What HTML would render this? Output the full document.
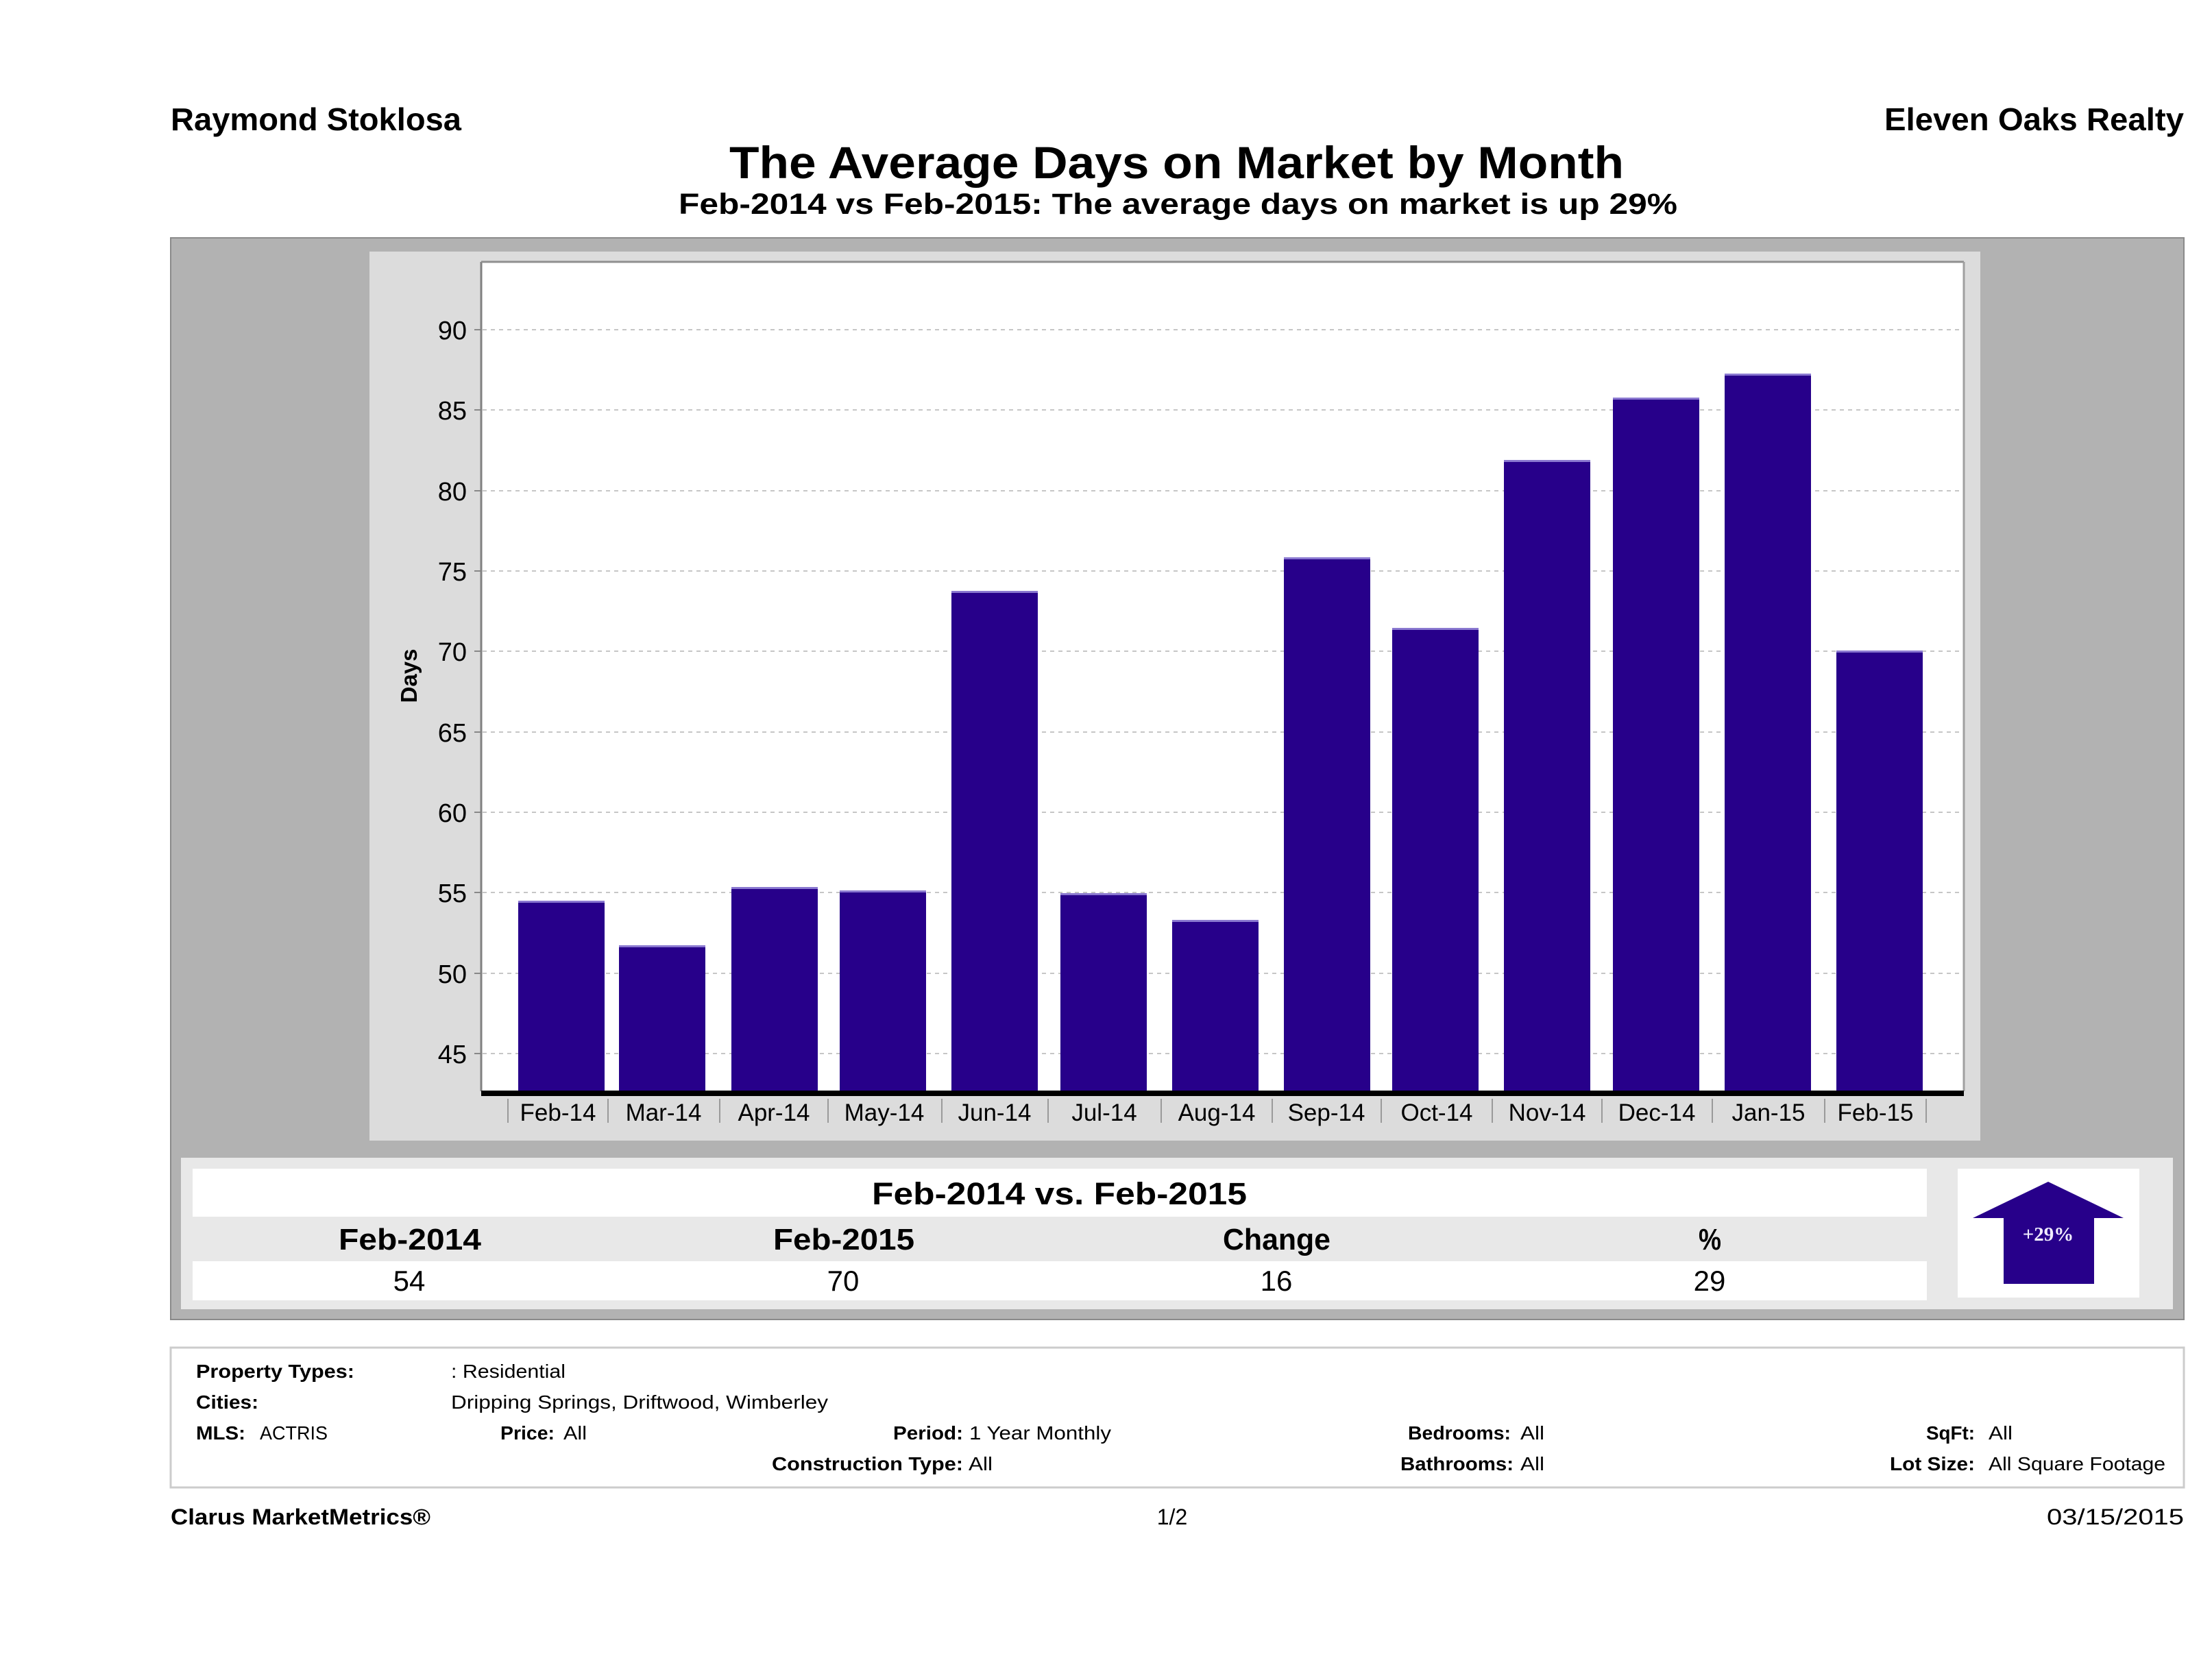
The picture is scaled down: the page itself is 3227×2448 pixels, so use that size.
<!DOCTYPE html>
<html>
<head>
<meta charset="utf-8">
<style>
html,body{margin:0;padding:0;background:#fff;}
svg{display:block;}
text{font-family:"Liberation Sans", "DejaVu Sans", sans-serif;fill:#000;}
.b{font-weight:bold;}
</style>
</head>
<body>
<svg width="3227" height="2448" viewBox="0 0 3227 2448" xmlns="http://www.w3.org/2000/svg">
<rect x="0" y="0" width="3227" height="2448" fill="#fff"/>

<!-- Header -->
<text class="b" x="249" y="190" font-size="46" textLength="424" lengthAdjust="spacingAndGlyphs">Raymond Stoklosa</text>
<text class="b" x="2749" y="190" font-size="46" textLength="437" lengthAdjust="spacingAndGlyphs">Eleven Oaks Realty</text>
<text class="b" x="1064" y="260" font-size="66" textLength="1305" lengthAdjust="spacingAndGlyphs">The Average Days on Market by Month</text>
<text class="b" x="990" y="312" font-size="43" textLength="1457" lengthAdjust="spacingAndGlyphs">Feb-2014 vs Feb-2015: The average days on market is up 29%</text>

<!-- Outer gray box -->
<rect x="249" y="347" width="2937" height="1578" fill="#b2b2b2" stroke="#8a8a8a" stroke-width="2"/>

<!-- Chart panel -->
<rect x="539" y="367" width="2350" height="1297" fill="#dcdcdc"/>
<!-- Plot area -->
<rect x="702" y="382" width="2162" height="1210" fill="#ffffff"/>

<!-- Gridlines -->
<g stroke="#c6c6c6" stroke-width="2" stroke-dasharray="6 6">
<line x1="704" y1="1537" x2="2864" y2="1537"/>
<line x1="704" y1="1420" x2="2864" y2="1420"/>
<line x1="704" y1="1302" x2="2864" y2="1302"/>
<line x1="704" y1="1185" x2="2864" y2="1185"/>
<line x1="704" y1="1068" x2="2864" y2="1068"/>
<line x1="704" y1="950" x2="2864" y2="950"/>
<line x1="704" y1="833" x2="2864" y2="833"/>
<line x1="704" y1="716" x2="2864" y2="716"/>
<line x1="704" y1="598" x2="2864" y2="598"/>
<line x1="704" y1="481" x2="2864" y2="481"/>
</g>

<!-- Y tick marks -->
<g stroke="#888" stroke-width="2">
<line x1="692" y1="1537" x2="702" y2="1537"/>
<line x1="692" y1="1420" x2="702" y2="1420"/>
<line x1="692" y1="1302" x2="702" y2="1302"/>
<line x1="692" y1="1185" x2="702" y2="1185"/>
<line x1="692" y1="1068" x2="702" y2="1068"/>
<line x1="692" y1="950" x2="702" y2="950"/>
<line x1="692" y1="833" x2="702" y2="833"/>
<line x1="692" y1="716" x2="702" y2="716"/>
<line x1="692" y1="598" x2="702" y2="598"/>
<line x1="692" y1="481" x2="702" y2="481"/>
</g>

<!-- Y labels -->
<g font-size="38" text-anchor="end" fill="#111">
<text x="681" y="1551">45</text>
<text x="681" y="1434">50</text>
<text x="681" y="1316">55</text>
<text x="681" y="1199">60</text>
<text x="681" y="1082">65</text>
<text x="681" y="964">70</text>
<text x="681" y="847">75</text>
<text x="681" y="730">80</text>
<text x="681" y="612">85</text>
<text x="681" y="495">90</text>
</g>
<text class="b" x="0" y="0" font-size="33" text-anchor="middle" transform="translate(608,986) rotate(-90)">Days</text>

<!-- Plot border -->
<line x1="702" y1="382" x2="702" y2="1592" stroke="#808080" stroke-width="3"/>
<line x1="702" y1="382" x2="2865" y2="382" stroke="#909090" stroke-width="3"/>
<line x1="2865" y1="382" x2="2865" y2="1592" stroke="#a0a0a0" stroke-width="3"/>

<!-- Bars -->
<g fill="#27008a">
<rect x="756" y="1316" width="126" height="276"/>
<rect x="903" y="1381" width="126" height="211"/>
<rect x="1067" y="1296" width="126" height="296"/>
<rect x="1225" y="1301" width="126" height="291"/>
<rect x="1388" y="864" width="126" height="728"/>
<rect x="1547" y="1305" width="126" height="287"/>
<rect x="1710" y="1344" width="126" height="248"/>
<rect x="1873" y="815" width="126" height="777"/>
<rect x="2031" y="918" width="126" height="674"/>
<rect x="2194" y="673" width="126" height="919"/>
<rect x="2353" y="582" width="126" height="1010"/>
<rect x="2516" y="547" width="126" height="1045"/>
<rect x="2679" y="951" width="126" height="641"/>
</g>
<g fill="#8a78d0">
<rect x="756" y="1314" width="126" height="3"/>
<rect x="903" y="1379" width="126" height="3"/>
<rect x="1067" y="1294" width="126" height="3"/>
<rect x="1225" y="1299" width="126" height="3"/>
<rect x="1388" y="862" width="126" height="3"/>
<rect x="1547" y="1303" width="126" height="3"/>
<rect x="1710" y="1342" width="126" height="3"/>
<rect x="1873" y="813" width="126" height="3"/>
<rect x="2031" y="916" width="126" height="3"/>
<rect x="2194" y="671" width="126" height="3"/>
<rect x="2353" y="580" width="126" height="3"/>
<rect x="2516" y="545" width="126" height="3"/>
<rect x="2679" y="949" width="126" height="3"/>
</g>

<!-- X axis line -->
<rect x="702" y="1591" width="2163" height="8" fill="#000"/>

<!-- X category separators -->
<g stroke="#9a9a9a" stroke-width="2">
<line x1="741" y1="1603" x2="741" y2="1638"/>
<line x1="887" y1="1603" x2="887" y2="1638"/>
<line x1="1050" y1="1603" x2="1050" y2="1638"/>
<line x1="1208" y1="1603" x2="1208" y2="1638"/>
<line x1="1374" y1="1603" x2="1374" y2="1638"/>
<line x1="1529" y1="1603" x2="1529" y2="1638"/>
<line x1="1694" y1="1603" x2="1694" y2="1638"/>
<line x1="1856" y1="1603" x2="1856" y2="1638"/>
<line x1="2015" y1="1603" x2="2015" y2="1638"/>
<line x1="2177" y1="1603" x2="2177" y2="1638"/>
<line x1="2337" y1="1603" x2="2337" y2="1638"/>
<line x1="2498" y1="1603" x2="2498" y2="1638"/>
<line x1="2662" y1="1603" x2="2662" y2="1638"/>
<line x1="2810" y1="1603" x2="2810" y2="1638"/>
</g>

<!-- X labels -->
<g font-size="35" text-anchor="middle" fill="#111">
<text x="814" y="1635">Feb-14</text>
<text x="968" y="1635">Mar-14</text>
<text x="1129" y="1635">Apr-14</text>
<text x="1290" y="1635">May-14</text>
<text x="1451" y="1635">Jun-14</text>
<text x="1611" y="1635">Jul-14</text>
<text x="1775" y="1635">Aug-14</text>
<text x="1935" y="1635">Sep-14</text>
<text x="2096" y="1635">Oct-14</text>
<text x="2257" y="1635">Nov-14</text>
<text x="2417" y="1635">Dec-14</text>
<text x="2580" y="1635">Jan-15</text>
<text x="2736" y="1635">Feb-15</text>
</g>

<!-- Stats table -->
<rect x="264" y="1689" width="2906" height="221" fill="#e8e8e8"/>
<rect x="281" y="1705" width="2530" height="70" fill="#ffffff"/>
<rect x="281" y="1840" width="2530" height="57" fill="#ffffff"/>
<text class="b" x="1272" y="1757" font-size="45" textLength="547" lengthAdjust="spacingAndGlyphs">Feb-2014 vs. Feb-2015</text>
<text class="b" x="494" y="1823" font-size="44" textLength="208" lengthAdjust="spacingAndGlyphs">Feb-2014</text>
<text class="b" x="1128" y="1823" font-size="44" textLength="206" lengthAdjust="spacingAndGlyphs">Feb-2015</text>
<text class="b" x="1784" y="1823" font-size="44" textLength="157" lengthAdjust="spacingAndGlyphs">Change</text>
<text class="b" x="2478" y="1823" font-size="44" textLength="33" lengthAdjust="spacingAndGlyphs">%</text>
<g font-size="42" text-anchor="middle">
<text x="597" y="1883">54</text>
<text x="1230" y="1883">70</text>
<text x="1862" y="1883">16</text>
<text x="2494" y="1883">29</text>
</g>

<!-- Arrow box -->
<rect x="2856" y="1705" width="265" height="188" fill="#ffffff"/>
<polygon points="2988,1724 3098,1777 3055,1777 3055,1873 2923,1873 2923,1777 2878,1777" fill="#27008a"/>
<text x="2988" y="1810" font-size="29" font-weight="bold" text-anchor="middle" style="font-family:'Liberation Serif','DejaVu Serif',serif;fill:#f0ecff;">+29%</text>

<!-- Footer criteria box -->
<rect x="249" y="1966" width="2937" height="204" fill="#ffffff" stroke="#cccccc" stroke-width="3"/>
<g font-size="28">
<text class="b" x="286" y="2010" textLength="231" lengthAdjust="spacingAndGlyphs">Property Types:</text>
<text x="658" y="2010" textLength="167" lengthAdjust="spacingAndGlyphs">: Residential</text>
<text class="b" x="286" y="2055" textLength="91" lengthAdjust="spacingAndGlyphs">Cities:</text>
<text x="658" y="2055" textLength="550" lengthAdjust="spacingAndGlyphs">Dripping Springs, Driftwood, Wimberley</text>
<text class="b" x="286" y="2100" textLength="72" lengthAdjust="spacingAndGlyphs">MLS:</text>
<text x="379" y="2100" textLength="99" lengthAdjust="spacingAndGlyphs">ACTRIS</text>
<text class="b" x="730" y="2100" textLength="79" lengthAdjust="spacingAndGlyphs">Price:</text>
<text x="822" y="2100" textLength="34" lengthAdjust="spacingAndGlyphs">All</text>
<text class="b" x="1303" y="2100" textLength="102" lengthAdjust="spacingAndGlyphs">Period:</text>
<text x="1414" y="2100" textLength="207" lengthAdjust="spacingAndGlyphs">1 Year Monthly</text>
<text class="b" x="1126" y="2145" textLength="279" lengthAdjust="spacingAndGlyphs">Construction Type:</text>
<text x="1413" y="2145" textLength="35" lengthAdjust="spacingAndGlyphs">All</text>
<text class="b" x="2054" y="2100" textLength="150" lengthAdjust="spacingAndGlyphs">Bedrooms:</text>
<text x="2218" y="2100" textLength="35" lengthAdjust="spacingAndGlyphs">All</text>
<text class="b" x="2043" y="2145" textLength="165" lengthAdjust="spacingAndGlyphs">Bathrooms:</text>
<text x="2218" y="2145" textLength="35" lengthAdjust="spacingAndGlyphs">All</text>
<text class="b" x="2810" y="2100" textLength="71" lengthAdjust="spacingAndGlyphs">SqFt:</text>
<text x="2901" y="2100" textLength="35" lengthAdjust="spacingAndGlyphs">All</text>
<text class="b" x="2757" y="2145" textLength="124" lengthAdjust="spacingAndGlyphs">Lot Size:</text>
<text x="2901" y="2145" textLength="258" lengthAdjust="spacingAndGlyphs">All Square Footage</text>
</g>

<!-- Bottom footer -->
<text class="b" x="249" y="2224" font-size="32" textLength="379" lengthAdjust="spacingAndGlyphs">Clarus MarketMetrics®</text>
<text x="1710" y="2224" font-size="32" text-anchor="middle">1/2</text>
<text x="2986" y="2224" font-size="32" textLength="200" lengthAdjust="spacingAndGlyphs">03/15/2015</text>
</svg>
</body>
</html>
